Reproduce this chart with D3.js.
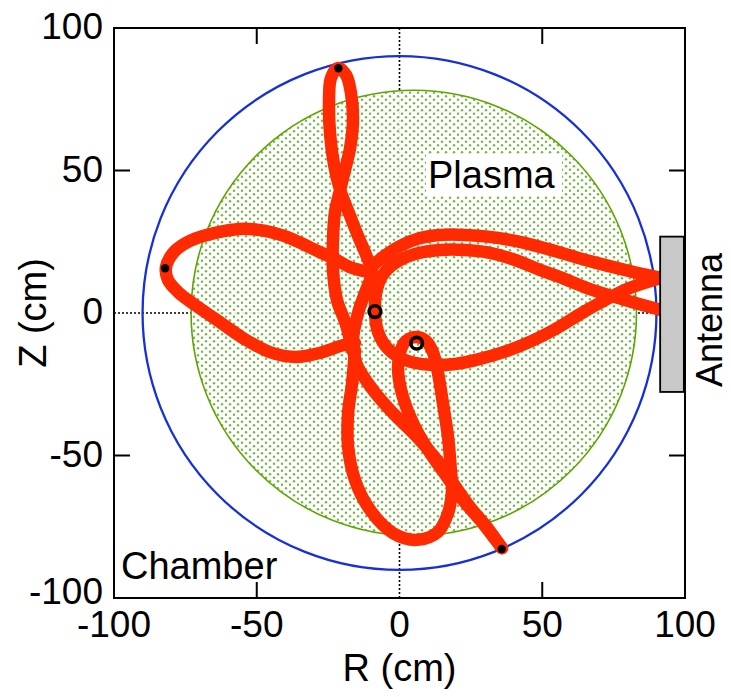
<!DOCTYPE html>
<html lang="en">
<head>
<meta charset="UTF-8">
<title>Orbit in R-Z plane</title>
<script src="https://d3js.org/d3.v7.min.js"></script>
<style>
  body { margin: 0; background: #fff; }
  svg text { font-family: "Liberation Sans", Arial, Helvetica, sans-serif; fill: #000; }
</style>
</head>
<body>
<svg id="chart" width="731" height="697"></svg>
<script>
// axis ticks
const tickVals = [-100, -50, 0, 50, 100];

// geometry (cm)
const chamberRadius = 90;
const plasmaCenter = [5, 0];
const plasmaRadius = 78;
const antennaBox = { r0: 91.3, r1: 99.6, z0: -27.7, z1: 26.8 };

// orbit traces [R, Z] in cm
const topLoop = [
  [-16.6, -13.0], [-18.7, -4.2], [-21.9, 4.6], [-23.3, 15.1], [-23.3, 25.6],
  [-22.6, 35.4], [-20.8, 43.2], [-19.1, 50.2], [-17.3, 57.9], [-16.3, 67.7],
  [-17.0, 77.2], [-18.7, 83.5], [-21.5, 86.0], [-24.0, 82.5], [-24.7, 73.0],
  [-24.3, 62.5], [-22.9, 51.9], [-20.8, 43.2], [-17.7, 35.1], [-14.5, 27.0],
  [-11.4, 19.6], [-9.6, 14.4], [-11.7, 8.1], [-14.2, 1.1], [-15.9, -6.0], [-16.6, -13.0]
];
const innerArc = [
  [91.5, 1.1], [79.0, 4.6], [66.7, 8.4], [56.2, 12.6], [49.2, 15.1], [40.5, 18.6],
  [31.7, 21.1], [22.9, 22.1], [14.2, 22.1], [5.4, 20.7], [-1.6, 17.5], [-6.1, 13.0],
  [-8.2, 7.0], [-8.6, 0.4], [-7.5, -6.7], [-4.0, -12.6], [1.9, -16.5], [10.7, -18.2],
  [19.4, -17.9], [28.2, -16.1], [37.7, -13.3], [46.4, -9.8], [55.2, -5.3], [63.9, 0.0],
  [72.7, 4.9], [80.7, 8.8], [91.5, 12.3]
];
const outerArc = [
  [91.5, 12.3], [80.7, 14.7], [66.7, 18.2], [58.0, 20.7], [49.2, 23.2], [40.5, 25.3],
  [31.7, 26.7], [22.9, 27.4], [14.2, 27.4], [7.2, 26.3], [0.2, 23.5], [-5.8, 19.6], [-10.3, 15.8]
];
const leftLoop = [
  [-11.0, 14.4], [-16.6, 15.8], [-22.6, 18.9], [-30.3, 22.5], [-38.4, 26.3], [-47.1, 28.8],
  [-55.9, 29.5], [-64.6, 28.1], [-73.4, 25.3], [-79.0, 21.4], [-81.8, 16.1], [-81.1, 11.6],
  [-77.6, 7.4], [-71.6, 2.8], [-63.9, -2.5], [-54.8, -8.8], [-45.4, -13.7], [-35.9, -15.4],
  [-26.8, -13.7], [-20.8, -11.6], [-15.6, -10.5]
];
const diagonal = [
  [-16.6, -10.2], [-14.9, -18.2], [-9.3, -27.0], [-2.3, -35.1], [6.1, -43.5], [13.1, -51.6],
  [18.7, -59.6], [24.7, -68.1], [30.6, -75.1], [35.9, -82.5]
];
const bottomLoop = [
  [-15.6, -13.0], [-16.6, -24.6], [-18.0, -35.1], [-18.0, -47.0], [-15.6, -58.6], [-10.3, -69.1],
  [-2.3, -77.2], [6.1, -79.6], [13.5, -76.8], [17.0, -70.2], [18.4, -62.1], [18.0, -55.1],
  [17.0, -43.5], [15.2, -31.6], [13.5, -21.1], [11.7, -13.7], [9.3, -9.8], [5.8, -8.4],
  [2.3, -9.8], [0.2, -13.7], [-0.5, -20.0], [1.2, -29.5], [5.4, -40.0], [10.7, -49.1],
  [16.6, -57.5], [22.2, -65.6], [28.2, -72.6], [33.1, -78.9], [35.9, -82.5]
];
const orbits = [topLoop, innerArc, outerArc, leftLoop, diagonal, bottomLoop];

// end points (filled) and start points (open)
const endPoints = [[-21.4, 85.9], [-82.1, 15.7], [35.8, -82.8]];
const startPoints = [[-8.6, 0.5], [6.0, -10.6]];

const svg = d3.select("#chart");
const x = d3.scaleLinear().domain([-100, 100]).range([114, 685]);
const y = d3.scaleLinear().domain([-100, 100]).range([598, 28]);

// dotted plasma texture
const defs = svg.append("defs");
const pat = defs.append("pattern")
    .attr("id", "dots").attr("patternUnits", "userSpaceOnUse")
    .attr("width", 8).attr("height", 7);
pat.append("rect").attr("width", 8).attr("height", 7).attr("fill", "#fff").attr("fill-opacity", 0.9);
pat.append("circle").attr("cx", 2).attr("cy", 1.75).attr("r", 1.25).attr("fill", "#78b84a");
pat.append("circle").attr("cx", 6).attr("cy", 5.25).attr("r", 1.25).attr("fill", "#78b84a");

// zero lines (dotted)
svg.append("line")
    .attr("x1", x(0)).attr("x2", x(0)).attr("y1", y(100)).attr("y2", y(-100))
    .attr("stroke", "#000").attr("stroke-width", 1.6).attr("stroke-dasharray", "2,2");
svg.append("line")
    .attr("x1", x(-100)).attr("x2", x(92)).attr("y1", y(0)).attr("y2", y(0))
    .attr("stroke", "#000").attr("stroke-width", 1.6).attr("stroke-dasharray", "2,2");

// chamber wall
svg.append("circle")
    .attr("cx", x(0)).attr("cy", y(0))
    .attr("r", x(chamberRadius) - x(0))
    .attr("fill", "none").attr("stroke", "#1630d8").attr("stroke-width", 2.3);

// plasma
svg.append("circle")
    .attr("cx", x(plasmaCenter[0])).attr("cy", y(plasmaCenter[1]))
    .attr("r", x(plasmaRadius) - x(0))
    .attr("fill", "url(#dots)").attr("stroke", "#5ea400").attr("stroke-width", 1.6);

// label box for "Plasma"
svg.append("rect").attr("x", 426).attr("y", 154).attr("width", 136).attr("height", 42).attr("fill", "#fff");
svg.append("text").attr("x", 428).attr("y", 188).attr("font-size", 38).text("Plasma");

// orbits
const line = d3.line()
    .x(d => x(d[0])).y(d => y(d[1]))
    .curve(d3.curveCatmullRom.alpha(0.5));
svg.append("g").selectAll("path")
    .data(orbits)
    .join("path")
    .attr("d", line)
    .attr("fill", "none")
    .attr("stroke", "#ff2a00")
    .attr("stroke-width", 12.5)
    .attr("stroke-linecap", "round")
    .attr("stroke-linejoin", "round");

svg.append("g").selectAll("circle")
    .data(endPoints)
    .join("circle")
    .attr("cx", d => x(d[0])).attr("cy", d => y(d[1]))
    .attr("r", 4.2).attr("fill", "#000");

svg.append("g").selectAll("circle")
    .data(startPoints)
    .join("circle")
    .attr("cx", d => x(d[0])).attr("cy", d => y(d[1]))
    .attr("r", 5.8).attr("fill", "none").attr("stroke", "#000").attr("stroke-width", 3.6);

// antenna
svg.append("rect")
    .attr("x", x(antennaBox.r0)).attr("y", y(antennaBox.z1))
    .attr("width", x(antennaBox.r1) - x(antennaBox.r0))
    .attr("height", y(antennaBox.z0) - y(antennaBox.z1))
    .attr("fill", "#c8c8c8").attr("stroke", "#000").attr("stroke-width", 1.8);

// frame and inward ticks
svg.append("rect")
    .attr("x", x(-100)).attr("y", y(100))
    .attr("width", x(100) - x(-100)).attr("height", y(-100) - y(100))
    .attr("fill", "none").attr("stroke", "#000").attr("stroke-width", 2);

const tickLen = 16;
const minorTicks = tickVals.filter(v => v !== 0 && Math.abs(v) !== 100);
const tg = svg.append("g").attr("stroke", "#000").attr("stroke-width", 2);
minorTicks.forEach(v => {
  tg.append("line").attr("x1", x(v)).attr("x2", x(v)).attr("y1", y(-100)).attr("y2", y(-100) - tickLen);
  tg.append("line").attr("x1", x(v)).attr("x2", x(v)).attr("y1", y(100)).attr("y2", y(100) + tickLen);
  tg.append("line").attr("y1", y(v)).attr("y2", y(v)).attr("x1", x(-100)).attr("x2", x(-100) + tickLen);
  tg.append("line").attr("y1", y(v)).attr("y2", y(v)).attr("x1", x(100)).attr("x2", x(100) - tickLen);
});

// tick labels
svg.append("g").selectAll("text")
    .data(tickVals)
    .join("text")
    .attr("x", d => x(d)).attr("y", 637)
    .attr("text-anchor", "middle").attr("font-size", 37)
    .text(d => d);
svg.append("g").selectAll("text")
    .data(tickVals)
    .join("text")
    .attr("x", 103).attr("y", d => y(d) + 11 - (d === -100 ? 5 : 0))
    .attr("text-anchor", "end").attr("font-size", 37)
    .text(d => d);

// axis titles and labels
svg.append("text").attr("x", x(0)).attr("y", 681)
    .attr("text-anchor", "middle").attr("font-size", 38).text("R (cm)");
svg.append("text")
    .attr("transform", `translate(46,${y(0)}) rotate(-90)`)
    .attr("text-anchor", "middle").attr("font-size", 38).text("Z (cm)");
svg.append("text")
    .attr("transform", "translate(722,320) rotate(-90)")
    .attr("text-anchor", "middle").attr("font-size", 36).text("Antenna");
svg.append("text").attr("x", 121).attr("y", 579).attr("font-size", 38).text("Chamber");
</script>
</body>
</html>
